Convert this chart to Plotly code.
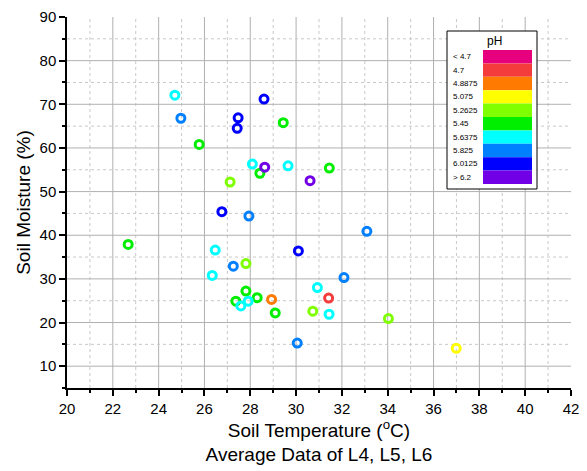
import plotly.graph_objects as go

# ---- data ----
temperature = [24.71, 24.97, 27.47, 27.43, 28.60, 29.44, 25.77, 28.09, 28.63, 28.42,
               29.65, 31.45, 30.61, 27.12, 26.76, 27.94, 33.09, 26.47, 30.10, 27.26,
               27.81, 26.34, 32.09, 30.93, 31.42, 27.81, 27.37, 27.91, 27.59, 28.30,
               28.93, 29.09, 30.73, 31.44, 30.05, 34.03, 36.99, 22.67]
moisture = [72.1, 66.8, 66.9, 64.5, 71.2, 65.8, 60.8, 56.3, 55.6, 54.2,
            55.9, 55.4, 52.5, 52.2, 45.4, 44.4, 40.9, 36.6, 36.4, 32.9,
            33.5, 30.8, 30.3, 28.0, 25.6, 27.2, 24.9, 24.9, 23.8, 25.7,
            25.3, 22.2, 22.6, 21.9, 15.3, 20.9, 14.1, 37.9]
ph_class = ["5.6375", "5.825", "6.0125", "6.0125", "6.0125", "5.45", "5.45", "5.6375", "> 6.2", "5.45",
            "5.6375", "5.45", "> 6.2", "5.2625", "6.0125", "5.825", "5.825", "5.6375", "6.0125", "5.825",
            "5.2625", "5.6375", "5.825", "5.6375", "4.7", "5.45", "5.45", "5.6375", "5.6375", "5.45",
            "4.8875", "5.45", "5.2625", "5.6375", "5.825", "5.2625", "5.075", "5.45"]

ph_labels = ["< 4.7", "4.7", "4.8875", "5.075", "5.2625", "5.45", "5.6375", "5.825", "6.0125", "> 6.2"]
ph_colors = ["#e6007e", "#f53c3c", "#ff7a00", "#ffff00", "#80ff00", "#00ee00",
             "#00ffff", "#0080ff", "#0000ff", "#7200e6"]

x_ticks = list(range(20, 43, 2))
y_ticks = list(range(10, 91, 10))
x_range = [20, 42]
y_range = [5, 90]

FONT = "Arial, Liberation Sans, sans-serif"

fig = go.Figure()
for lab, col in zip(ph_labels, ph_colors):
    xs = [t for t, p in zip(temperature, ph_class) if p == lab]
    ys = [m for m, p in zip(moisture, ph_class) if p == lab]
    if not xs:
        continue
    fig.add_trace(go.Scatter(
        x=xs, y=ys, mode="markers", name=lab, showlegend=False,
        marker=dict(symbol="circle-open", size=8, color=col, line=dict(width=3, color=col)),
    ))

# plot-area geometry (pixels)
L, R, T, B = 67, 571, 17, 388
W, H = R - L, B - T


def px(xp):
    return (xp - L) / W


def py(yp):
    return (B - yp) / H


shapes = []
annotations = []

# grid lines (interior only, no frame at the top / right)
MAJOR = "#b0b0b0"
MINOR = "#c8c8c8"
for xv in range(x_range[0] + 1, x_range[1]):
    if xv % 2 == 0:
        line = dict(color=MAJOR, width=1)
    else:
        line = dict(color=MINOR, width=1, dash="dot")
    shapes.append(dict(type="line", xref="x", yref="y", x0=xv, x1=xv,
                       y0=y_range[0], y1=y_range[1], line=line, layer="below"))
for yv in range(y_range[0] + 5, y_range[1], 5):
    if yv % 10 == 0:
        line = dict(color=MAJOR, width=1)
    else:
        line = dict(color=MINOR, width=1, dash="dot")
    shapes.append(dict(type="line", xref="x", yref="y", x0=x_range[0], x1=x_range[1],
                       y0=yv, y1=yv, line=line, layer="below"))

# legend box
shapes.append(dict(type="rect", xref="paper", yref="paper",
                   x0=px(447), x1=px(537), y0=py(189), y1=py(31),
                   line=dict(color="black", width=1), fillcolor="white", layer="above"))
bar_top, bar_bot = 50, 184
step = (bar_bot - bar_top) / len(ph_labels)
for i, (lab, col) in enumerate(zip(ph_labels, ph_colors)):
    y0 = bar_top + i * step
    shapes.append(dict(type="rect", xref="paper", yref="paper",
                       x0=px(483), x1=px(532), y0=py(y0 + step), y1=py(y0),
                       line=dict(width=0), fillcolor=col, layer="above"))
    annotations.append(dict(xref="paper", yref="paper", x=px(451), y=py(y0 + step / 2),
                            text=lab, showarrow=False, xanchor="left", yanchor="middle",
                            font=dict(family=FONT, size=8, color="black")))
annotations.append(dict(xref="paper", yref="paper", x=px(494), y=py(41),
                        text="pH", showarrow=False, xanchor="center", yanchor="middle",
                        font=dict(family=FONT, size=12, color="black")))

axis_common = dict(
    showline=True, linecolor="black", linewidth=1.5,
    ticks="outside", ticklen=6, tickwidth=1.5, tickcolor="black",
    showgrid=False, zeroline=False,
    tickfont=dict(family=FONT, size=15, color="black"),
)

fig.update_layout(
    width=587, height=471,
    margin=dict(l=L, r=587 - R, t=T, b=471 - B, autoexpand=False),
    paper_bgcolor="white", plot_bgcolor="white",
    font=dict(family=FONT, color="black"),
    shapes=shapes, annotations=annotations,
    xaxis=dict(
        range=x_range, tickvals=x_ticks, **axis_common,
        minor=dict(dtick=1, tick0=20, showgrid=False,
                   ticks="outside", ticklen=3, tickcolor="black", tickwidth=1.5),
        title=dict(text="Soil Temperature (<sup>o</sup>C)<br>Average Data of L4, L5, L6",
                   font=dict(family=FONT, size=19, color="black"), standoff=6),
    ),
    yaxis=dict(
        range=y_range, tickvals=y_ticks, **axis_common,
        minor=dict(dtick=5, tick0=5, showgrid=False,
                   ticks="outside", ticklen=3, tickcolor="black", tickwidth=1.5),
        title=dict(text="Soil Moisture (%)",
                   font=dict(family=FONT, size=19, color="black"), standoff=4),
    ),
)

fig.write_html("out.html")
